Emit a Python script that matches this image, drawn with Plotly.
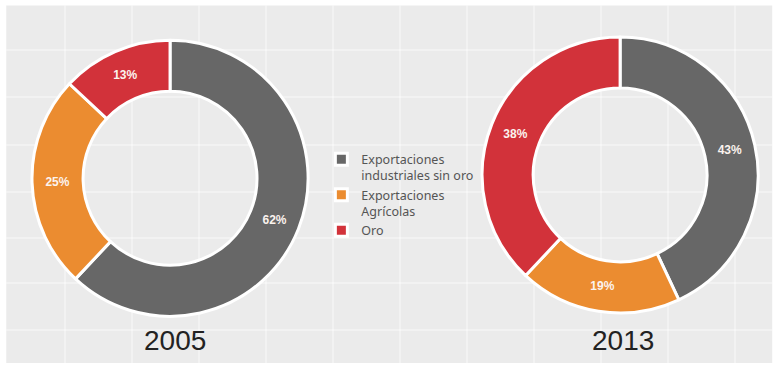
import plotly.graph_objects as go

categories = ["Exportaciones<br>industriales sin oro", "Exportaciones<br>Agrícolas", "Oro"]
values_2005 = [62, 25, 13]
values_2013 = [43, 19, 38]
years = ["2005", "2013"]
colors = ["#676767", "#eb8c30", "#d2323a"]

W, H = 780, 366

fig = go.Figure()

domains = [
    dict(x=[0.041, 0.395], y=[0.135, 0.891]),
    dict(x=[0.618, 0.972], y=[0.145, 0.899]),
]
for vals, dom, name in zip([values_2005, values_2013], domains, years):
    fig.add_trace(go.Pie(
        labels=categories,
        values=vals,
        name=name,
        hole=0.63,
        sort=False,
        direction="clockwise",
        rotation=0,
        domain=dom,
        marker=dict(colors=colors, line=dict(color="white", width=3)),
        texttemplate="<b>%{value}%</b>",
        textposition="inside",
        insidetextorientation="horizontal",
        textfont=dict(family="Liberation Sans", size=12, color="#fbf3ee"),
        hoverinfo="label+percent",
    ))

shapes = [
    dict(type="rect", xref="paper", yref="paper", x0=0.008, x1=0.99, y0=0.008, y1=0.985,
         fillcolor="#ebebeb", line=dict(width=0), layer="below"),
]
for gx in [65, 132, 199, 266, 333, 400, 467, 534, 601, 668, 735]:
    shapes.append(dict(type="line", xref="paper", yref="paper", x0=gx / W, x1=gx / W,
                       y0=0.008, y1=0.985, line=dict(color="rgba(255,255,255,0.75)", width=1),
                       layer="below"))
for gy in [50, 97, 145, 192, 238, 283, 330]:
    shapes.append(dict(type="line", xref="paper", yref="paper", x0=0.008, x1=0.99,
                       y0=1 - gy / H, y1=1 - gy / H,
                       line=dict(color="rgba(255,255,255,0.75)", width=1), layer="below"))

annotations = [
    dict(text=years[0], x=175 / W, y=1 - 340 / H, xref="paper", yref="paper", showarrow=False,
         xanchor="center", yanchor="middle",
         font=dict(family="Liberation Sans", size=28, color="#222222")),
    dict(text=years[1], x=623 / W, y=1 - 340 / H, xref="paper", yref="paper", showarrow=False,
         xanchor="center", yanchor="middle",
         font=dict(family="Liberation Sans", size=28, color="#222222")),
]

fig.update_layout(
    width=W, height=H,
    margin=dict(l=0, r=0, t=0, b=0),
    paper_bgcolor="white",
    plot_bgcolor="#ebebeb",
    showlegend=True,
    legend=dict(x=0.412, y=0.605, xanchor="left", yanchor="top",
                bgcolor="rgba(0,0,0,0)", valign="top",
                font=dict(family="Noto Sans", size=12.5, color="#555555"),
                itemwidth=30),
    shapes=shapes,
    annotations=annotations,
)

fig.write_html("out.html", config={"displayModeBar": False},
               post_script="document.body.style.margin='0';")
